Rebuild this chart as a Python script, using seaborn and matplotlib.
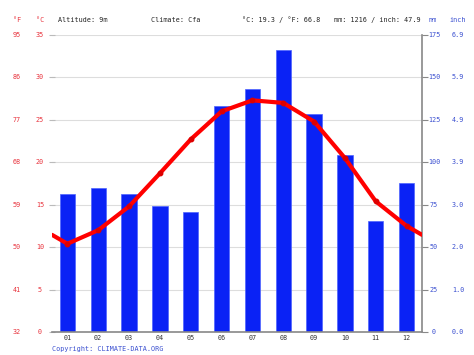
import matplotlib
matplotlib.use("Agg")
import matplotlib.pyplot as plt
import matplotlib.transforms as mtransforms
import seaborn as sns
import pandas as pd
import numpy as np

months = ["01", "02", "03", "04", "05", "06", "07", "08", "09", "10", "11", "12"]
precip_mm = [81.3, 84.6, 81.3, 74.5, 70.5, 133.3, 143.2, 166.2, 128.3, 104.3, 65.4, 87.6]
temp_c = [10.4, 12.0, 14.8, 18.7, 22.7, 26.0, 27.3, 27.0, 24.8, 20.5, 15.4, 12.5]
c_ticks = [0, 5, 10, 15, 20, 25, 30, 35]
f_labels = ["32", "41", "50", "59", "68", "77", "86", "95"]
mm_ticks = [0, 25, 50, 75, 100, 125, 150, 175]
inch_labels = ["0.0", "1.0", "2.0", "3.0", "3.9", "4.9", "5.9", "6.9"]
header = ["Altitude: 9m", "Climate: Cfa", "°C: 19.3 / °F: 66.8", "mm: 1216 / inch: 47.9"]

sns.set_theme(style="white")
plt.rcParams['font.family'] = ['DejaVu Sans Mono', 'DejaVu Sans']

RED = "#e8323c"
BLUE = "#3a4fd0"
FS = 4.9

fig = plt.figure(figsize=(4.74, 3.55), dpi=100)
ax = fig.add_axes([52/474, 23/355, 370/474, 297/355])
ax2 = ax.twinx()
ax.set_zorder(ax2.get_zorder() + 1)
ax.patch.set_visible(False)

df = pd.DataFrame({"month": months, "mm": precip_mm})
sns.barplot(data=df, x="month", y="mm", ax=ax2, color="#0a22f5", width=0.5,
            saturation=1, edgecolor="#4d63ff", linewidth=0.5)
ax2.set_ylim(0, 175)
ax2.set_xlim(-0.5, 11.5)
ax2.set_yticks(mm_ticks)
ax2.set_yticklabels([])
ax2.grid(axis="y", color="#dddddd", linewidth=0.8)
ax2.set_axisbelow(True)
ax2.set_xlabel("")
ax2.set_ylabel("")
ax2.tick_params(axis="y", direction="out", length=4, width=0.8, color="#888888")

# temperature line, extended to edges with Dec/Jan midpoint
edge = (temp_c[0] + temp_c[-1]) / 2
tx = [-0.5] + list(range(12)) + [11.5]
ty = [edge] + temp_c + [edge]
tdf = pd.DataFrame({"x": tx, "t": ty})
sns.lineplot(data=tdf, x="x", y="t", ax=ax, color="#ff0000", linewidth=3.0, sort=False)
ax.plot(range(12), temp_c, linestyle="none", marker="o", markersize=3.2, color="#dd0000")
ax.set_xlim(-0.5, 11.5)
ax.set_ylim(0, 35)
ax.set_yticks(c_ticks)
ax.set_yticklabels([])
ax.tick_params(axis="y", direction="inout", length=4, width=0.8, color="#bbbbbb")
ax.set_xlabel("")
ax.set_ylabel("")

# x ticks: month labels, tick marks at boundaries
ax.set_xticks(range(12))
ax.set_xticklabels(months, fontsize=FS, color="#333333")
ax.tick_params(axis="x", length=0, pad=2)
ax.set_xticks(np.arange(-0.5, 12, 1), minor=True)
ax.tick_params(axis="x", which="minor", direction="out", length=3, width=0.8, color="#888888")
ax2.tick_params(axis="x", length=0)

for a in (ax, ax2):
    for s in a.spines.values():
        s.set_visible(False)
ax2.spines["right"].set_visible(True)
ax2.spines["right"].set_color("#888888")
ax2.spines["right"].set_linewidth(1.2)
ax.spines["bottom"].set_visible(True)
ax.spines["bottom"].set_color("#888888")
ax.spines["bottom"].set_linewidth(1.2)

# left labels (°F and °C)
trl = mtransforms.blended_transform_factory(fig.transFigure, ax.transData)
for c, f in zip(c_ticks, f_labels):
    ax.text(17/474, c, f, transform=trl, color=RED, fontsize=FS, ha="center", va="center")
    ax.text(40/474, c, str(c), transform=trl, color=RED, fontsize=FS, ha="center", va="center")
# right labels (mm and inch)
trr = mtransforms.blended_transform_factory(fig.transFigure, ax2.transData)
for m, i in zip(mm_ticks, inch_labels):
    ax2.text(434/474, m, str(m), transform=trr, color=BLUE, fontsize=FS, ha="center", va="center")
    ax2.text(458/474, m, i, transform=trr, color=BLUE, fontsize=FS, ha="center", va="center")

# header
hy = 1 - 20/355
fig.text(17/474, hy, "°F", color=RED, fontsize=FS, ha="center", va="center")
fig.text(40/474, hy, "°C", color=RED, fontsize=FS, ha="center", va="center")
fig.text(58/474, hy, header[0], color="#222222", fontsize=FS, ha="left", va="center")
fig.text(151/474, hy, header[1], color="#222222", fontsize=FS, ha="left", va="center")
fig.text(242/474, hy, header[2], color="#222222", fontsize=FS, ha="left", va="center")
fig.text(334/474, hy, header[3], color="#222222", fontsize=FS, ha="left", va="center")
fig.text(433/474, hy, "mm", color=BLUE, fontsize=FS, ha="center", va="center")
fig.text(458/474, hy, "inch", color=BLUE, fontsize=FS, ha="center", va="center")

fig.text(52/474, 1 - 349/355, "Copyright: CLIMATE-DATA.ORG", color=BLUE, fontsize=FS,
         ha="left", va="center")

fig.savefig("out.png", dpi=100, facecolor="white")
